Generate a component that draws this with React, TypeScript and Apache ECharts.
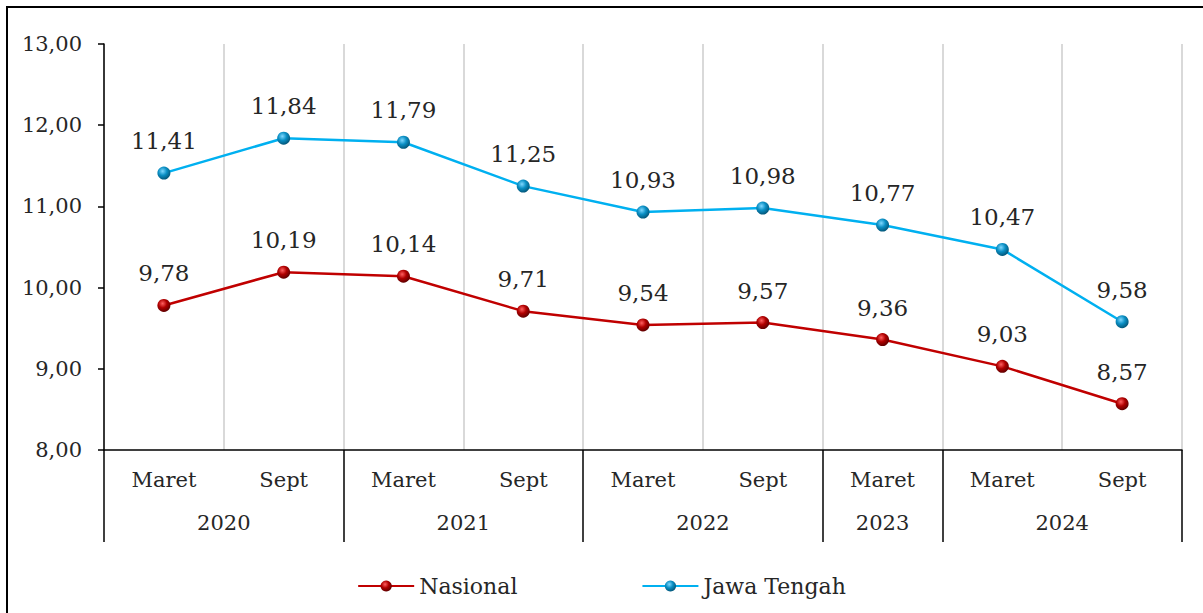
import React, { useEffect, useRef } from "react";
import * as echarts from "echarts";

const periods = ["Maret", "Sept", "Maret", "Sept", "Maret", "Sept", "Maret", "Maret", "Sept"];
const nasional = [9.78, 10.19, 10.14, 9.71, 9.54, 9.57, 9.36, 9.03, 8.57];
const jawaTengah = [11.41, 11.84, 11.79, 11.25, 10.93, 10.98, 10.77, 10.47, 9.58];
// years on a half-slot scale (19 points across 9 categories)
const yearSlots = ["", "", "2020", "", "", "", "2021", "", "", "", "2022", "", "", "2023", "", "", "2024", "", ""];
const yearBoundaries = [0, 4, 8, 12, 14, 18];

const FONT = "DejaVu Serif";
const fmt = (v: number) => v.toFixed(2).replace(".", ",");

function marker(base: string, light: string, dark: string) {
  return {
    type: "radial",
    x: 0.4,
    y: 0.35,
    r: 0.65,
    colorStops: [
      { offset: 0, color: light },
      { offset: 0.5, color: base },
      { offset: 1, color: dark },
    ],
  };
}

export default function App() {
  const ref = useRef<HTMLDivElement>(null);
  useEffect(() => {
    if (!ref.current) return;
    const chart = echarts.init(ref.current, undefined, { renderer: "svg" });
    const labelStyle = {
      show: true,
      position: "top",
      distance: 14,
      fontFamily: FONT,
      fontSize: 23,
      color: "#262626",
      formatter: (p: any) => fmt(p.value),
    };
    chart.setOption({
      animation: false,
      backgroundColor: "#ffffff",
      textStyle: { fontFamily: FONT },
      grid: { left: 104, right: 21, top: 44, bottom: 163, containLabel: false },
      legend: {
        bottom: 11,
        left: "center",
        itemWidth: 56,
        itemHeight: 14,
        itemGap: 124,
        textStyle: { fontFamily: FONT, fontSize: 22, color: "#262626" },
        data: ["Nasional", "Jawa Tengah"],
      },
      xAxis: [
        {
          type: "category",
          data: periods,
          boundaryGap: true,
          position: "bottom",
          axisLine: { show: true, lineStyle: { color: "#000", width: 1.5 } },
          axisTick: { show: false },
          axisLabel: { margin: 19, fontFamily: FONT, fontSize: 21, color: "#262626", interval: 0 },
          splitLine: { show: true, interval: 0, lineStyle: { color: "#d9d9d9", width: 2 } },
        },
        {
          type: "category",
          data: yearSlots,
          boundaryGap: false,
          position: "bottom",
          offset: 0,
          axisLine: { show: false },
          axisTick: {
            show: true,
            length: 92,
            interval: (i: number) => yearBoundaries.includes(i),
            lineStyle: { color: "#000", width: 1.5 },
          },
          axisLabel: {
            margin: 62,
            fontFamily: FONT,
            fontSize: 21,
            color: "#262626",
            interval: (i: number, v: string) => v !== "",
          },
          splitLine: { show: false },
        },
      ],
      yAxis: {
        type: "value",
        min: 8,
        max: 13,
        interval: 1,
        axisLine: { show: true, lineStyle: { color: "#000", width: 1.5 } },
        axisTick: { show: true, length: 6, lineStyle: { color: "#000", width: 1.5 } },
        axisLabel: { margin: 22, fontFamily: FONT, fontSize: 21, color: "#262626", formatter: (v: number) => fmt(v) },
        splitLine: { show: false },
      },
      series: [
        {
          name: "Nasional",
          type: "line",
          data: nasional,
          symbol: "circle",
          symbolSize: 13,
          lineStyle: { color: "#c00000", width: 2.5 },
          itemStyle: { color: marker("#b00000", "#ff6060", "#600000"), borderWidth: 0 },
          label: labelStyle,
        },
        {
          name: "Jawa Tengah",
          type: "line",
          data: jawaTengah,
          symbol: "circle",
          symbolSize: 13,
          lineStyle: { color: "#00b0f0", width: 2.5 },
          itemStyle: { color: marker("#0a8fc4", "#7fd8ff", "#04577a"), borderWidth: 0 },
          label: labelStyle,
        },
      ],
      graphic: [
        { type: "line", shape: { x1: 6, y1: 7, x2: 1203, y2: 7 }, style: { stroke: "#000", lineWidth: 2 } },
        { type: "line", shape: { x1: 7, y1: 6, x2: 7, y2: 613 }, style: { stroke: "#000", lineWidth: 2 } },
      ],
    });
    return () => chart.dispose();
  }, []);
  return <div ref={ref} style={{ position: "fixed", left: 0, top: 0, width: 1203, height: 613, background: "#fff" }} />;
}
